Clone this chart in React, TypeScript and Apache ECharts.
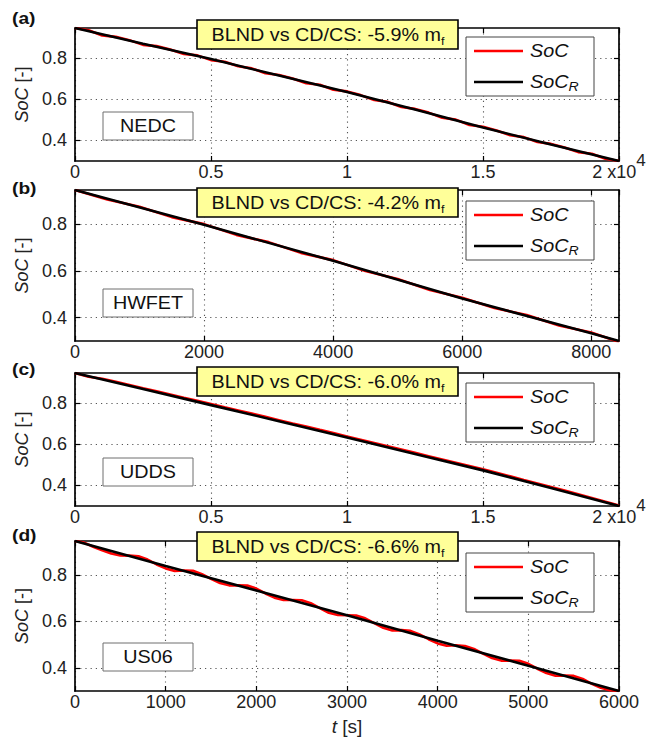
import React, { useEffect, useRef } from "react";
import * as echarts from "echarts";

const FONT = '"Liberation Sans", Arial, Helvetica, sans-serif';

// ---------- data ----------
const panelLetters = ["(a)", "(b)", "(c)", "(d)"];
const cycleNames = ["NEDC", "HWFET", "UDDS", "US06"];
const fuelChange = ["-5.9%", "-4.2%", "-6.0%", "-6.6%"];
const socTicks = [0.4, 0.6, 0.8];
const socMin = 0.3;
const socMax = 0.946;
const timeMax = [20000, 8430, 20000, 6000];
const timeStep = [5000, 2000, 5000, 1000];

// (a) NEDC
const timeA = [0, 500, 1000, 1500, 2000, 2500, 3000, 3500, 4000, 4500, 5000, 5500, 6000, 6500, 7000, 7500, 8000, 8500, 9000, 9500, 10000, 10500, 11000, 11500, 12000, 12500, 13000, 13500, 14000, 14500, 15000, 15500, 16000, 16500, 17000, 17500, 18000, 18500, 19000, 19500, 20000];
const socA = [0.946, 0.935, 0.910, 0.903, 0.887, 0.864, 0.858, 0.842, 0.820, 0.813, 0.790, 0.782, 0.760, 0.750, 0.726, 0.718, 0.701, 0.678, 0.670, 0.646, 0.638, 0.620, 0.596, 0.587, 0.562, 0.553, 0.535, 0.510, 0.501, 0.475, 0.466, 0.448, 0.425, 0.416, 0.392, 0.383, 0.366, 0.343, 0.335, 0.311, 0.300];
const refTimeA = [0, 2500, 5000, 7500, 10000, 12500, 15000, 17500, 20000];
const socRefA = [0.946, 0.870, 0.795, 0.715, 0.635, 0.550, 0.463, 0.380, 0.300];

// (b) HWFET
const timeB = [0, 500, 1000, 1500, 2000, 2500, 3000, 3500, 4000, 4500, 5000, 5500, 6000, 6500, 7000, 7500, 8000, 8430];
const socB = [0.946, 0.905, 0.874, 0.830, 0.800, 0.754, 0.723, 0.677, 0.646, 0.599, 0.565, 0.518, 0.485, 0.441, 0.411, 0.366, 0.336, 0.296];
const refTimeB = [0, 2000, 4000, 6000, 8000, 8430];
const socRefB = [0.946, 0.797, 0.643, 0.482, 0.333, 0.300];

// (c) UDDS
const timeC = [0, 500, 1000, 1500, 2000, 2500, 3000, 3500, 4000, 4500, 5000, 5500, 6000, 6500, 7000, 7500, 8000, 8500, 9000, 9500, 10000, 10500, 11000, 11500, 12000, 12500, 13000, 13500, 14000, 14500, 15000, 15500, 16000, 16500, 17000, 17500, 18000, 18500, 19000, 19500, 20000];
const socC = [0.946, 0.928, 0.918, 0.903, 0.888, 0.872, 0.857, 0.842, 0.826, 0.811, 0.795, 0.779, 0.764, 0.749, 0.733, 0.717, 0.701, 0.686, 0.670, 0.655, 0.638, 0.622, 0.606, 0.590, 0.574, 0.558, 0.542, 0.526, 0.510, 0.494, 0.478, 0.461, 0.444, 0.426, 0.409, 0.392, 0.375, 0.357, 0.339, 0.321, 0.302];
const refTimeC = [0, 2500, 5000, 7500, 10000, 12500, 15000, 17500, 20000];
const socRefC = [0.946, 0.868, 0.790, 0.712, 0.633, 0.553, 0.473, 0.387, 0.300];

// (d) US06
const timeD = [0, 100, 200, 300, 400, 500, 600, 700, 800, 900, 1000, 1100, 1200, 1300, 1400, 1500, 1600, 1700, 1800, 1900, 2000, 2100, 2200, 2300, 2400, 2500, 2600, 2700, 2800, 2900, 3000, 3100, 3200, 3300, 3400, 3500, 3600, 3700, 3800, 3900, 4000, 4100, 4200, 4300, 4400, 4500, 4600, 4700, 4800, 4900, 5000, 5100, 5200, 5300, 5400, 5500, 5600, 5700, 5800, 5900, 6000];
const socD = [0.946, 0.939, 0.921, 0.906, 0.892, 0.884, 0.883, 0.880, 0.866, 0.845, 0.828, 0.817, 0.819, 0.818, 0.803, 0.783, 0.765, 0.755, 0.755, 0.754, 0.741, 0.720, 0.702, 0.692, 0.692, 0.691, 0.678, 0.657, 0.637, 0.627, 0.626, 0.625, 0.613, 0.592, 0.572, 0.561, 0.562, 0.559, 0.544, 0.523, 0.505, 0.495, 0.497, 0.494, 0.481, 0.461, 0.442, 0.431, 0.431, 0.430, 0.417, 0.396, 0.377, 0.366, 0.367, 0.365, 0.352, 0.331, 0.314, 0.303, 0.300];
const refTimeD = [0, 1000, 2000, 3000, 4000, 5000, 6000];
const socRefD = [0.946, 0.838, 0.733, 0.626, 0.516, 0.409, 0.300];

const socTimes = [timeA, timeB, timeC, timeD];
const socValues = [socA, socB, socC, socD];
const refTimes = [refTimeA, refTimeB, refTimeC, refTimeD];
const refValues = [socRefA, socRefB, socRefC, socRefD];

// ---------- layout ----------
const GRID_LEFT = 75;
const GRID_RIGHT = 619;
const panelTop = [28, 190, 373, 541];
const panelHeight = [133, 151, 133, 151];
const noteTop = [20, 188, 367, 532];
const legendTop = [37, 201, 383, 553];
const tagTop = [112, 289, 458, 643];
const letterY = [18, 188, 369, 535];
const SX = 1.13; // horizontal stretch of the reference's lettering

const zip = (t: number[], v: number[]) => t.map((x, i) => [x, v[i]]);

function xLabel(i: number) {
  return (v: number) => {
    if (i === 0 || i === 2) {
      if (v === 20000) return "{n|2 x10}{p|4}";
      return "{n|" + String(v / 10000) + "}";
    }
    return "{n|" + String(v) + "}";
  };
}

const labelRich = {
  n: { fontSize: 18, fontFamily: FONT, color: "#222", lineHeight: 40 },
  p: { fontSize: 17, fontFamily: FONT, color: "#222", lineHeight: 16, verticalAlign: "top" },
};

function buildOption() {
  const grid: any[] = [];
  const xAxis: any[] = [];
  const yAxis: any[] = [];
  const series: any[] = [];
  const graphic: any[] = [];

  for (let i = 0; i < 4; i++) {
    grid.push({
      left: GRID_LEFT,
      top: panelTop[i],
      width: GRID_RIGHT - GRID_LEFT,
      height: panelHeight[i],
      show: false,
    });
  }
  const tickStyle = { inside: true, length: 5, lineStyle: { color: "#000", width: 1.2 } };
  const lineStyle = { show: true, onZero: false, lineStyle: { color: "#000", width: 1.7 } };
  const splitStyle = { show: true, lineStyle: { color: "#555", width: 1.1, type: [1.2, 4] } };

  // bottom x axes
  for (let i = 0; i < 4; i++) {
    xAxis.push({
      type: "value",
      gridIndex: i,
      position: "bottom",
      min: 0,
      max: timeMax[i],
      interval: timeStep[i],
      axisLine: lineStyle,
      axisTick: tickStyle,
      splitLine: splitStyle,
      axisLabel: {
        margin: -9,
        formatter: xLabel(i),
        rich: labelRich,
        showMaxLabel: i !== 1,
      },
      name: i === 3 ? "{i|t}{t| [s]}" : "",
      nameLocation: "middle",
      nameGap: 26,
      nameTextStyle: {
        rich: {
          i: { fontSize: 19, fontFamily: FONT, fontStyle: "italic", color: "#222" },
          t: { fontSize: 19, fontFamily: FONT, color: "#222" },
        },
      },
    });
  }
  // top x axes (mirrored ticks)
  for (let i = 0; i < 4; i++) {
    xAxis.push({
      type: "value",
      gridIndex: i,
      position: "top",
      min: 0,
      max: timeMax[i],
      interval: timeStep[i],
      axisLine: lineStyle,
      axisTick: tickStyle,
      splitLine: { show: false },
      axisLabel: { show: false },
    });
  }
  // left y axes
  for (let i = 0; i < 4; i++) {
    yAxis.push({
      type: "value",
      gridIndex: i,
      position: "left",
      min: socMin,
      max: socMax,
      axisLine: lineStyle,
      axisTick: { ...tickStyle, customValues: socTicks },
      splitLine: splitStyle,
      axisLabel: {
        customValues: socTicks,
        formatter: (v: number) => v.toFixed(1),
        fontSize: 18,
        fontFamily: FONT,
        color: "#222",
        margin: 8,
      },
      name: "{i|SoC}{t| [-]}",
      nameLocation: "middle",
      nameGap: 38,
      nameRotate: 90,
      nameTextStyle: {
        rich: {
          i: { fontSize: 18, fontFamily: FONT, fontStyle: "italic", color: "#222" },
          t: { fontSize: 18, fontFamily: FONT, color: "#222" },
        },
      },
    });
  }
  // right y axes (mirrored ticks)
  for (let i = 0; i < 4; i++) {
    yAxis.push({
      type: "value",
      gridIndex: i,
      position: "right",
      min: socMin,
      max: socMax,
      axisLine: lineStyle,
      axisTick: { ...tickStyle, customValues: socTicks },
      splitLine: { show: false },
      axisLabel: { show: false, customValues: socTicks },
    });
  }

  for (let i = 0; i < 4; i++) {
    series.push({
      type: "line",
      name: "SoC " + cycleNames[i],
      xAxisIndex: i,
      yAxisIndex: i,
      data: zip(socTimes[i], socValues[i]),
      symbol: "none",
      lineStyle: { color: "#ff0000", width: 2.6 },
      z: 2,
    });
    series.push({
      type: "line",
      name: "SoC_R " + cycleNames[i],
      xAxisIndex: i,
      yAxisIndex: i,
      data: zip(refTimes[i], refValues[i]),
      symbol: "none",
      lineStyle: { color: "#000000", width: 2.6 },
      z: 3,
    });

    // panel letter
    graphic.push({
      type: "text",
      x: 12,
      y: letterY[i],
      scaleX: SX,
      z: 100,
      style: {
        text: panelLetters[i],
        fontSize: 17,
        fontWeight: "bold",
        fontFamily: FONT,
        fill: "#111",
        verticalAlign: "middle",
        align: "left",
      },
    });

    // annotation box
    graphic.push({
      type: "rect",
      z: 100,
      shape: { x: 197, y: noteTop[i], width: 261, height: 29 },
      style: { fill: "#ffff99", stroke: "#000", lineWidth: 1.6 },
    });
    graphic.push({
      type: "text",
      z: 101,
      x: 328,
      y: noteTop[i] + 15,
      scaleX: SX,
      style: {
        text: "{a|BLND vs CD/CS: " + fuelChange[i] + " m}{s|f}",
        align: "center",
        verticalAlign: "middle",
        rich: {
          a: { fontSize: 17.5, fontFamily: FONT, fill: "#111", lineHeight: 22 },
          s: { fontSize: 11, fontFamily: FONT, fill: "#111", lineHeight: 11, verticalAlign: "bottom" },
        },
      },
    });

    // legend
    const lt = legendTop[i];
    graphic.push({
      type: "rect",
      z: 100,
      shape: { x: 466, y: lt, width: 128, height: 59 },
      style: { fill: "#fff", stroke: "#444", lineWidth: 1 },
    });
    graphic.push({
      type: "line",
      z: 101,
      shape: { x1: 474, y1: lt + 14, x2: 523, y2: lt + 14 },
      style: { stroke: "#ff0000", lineWidth: 2.4 },
    });
    graphic.push({
      type: "line",
      z: 101,
      shape: { x1: 474, y1: lt + 45, x2: 523, y2: lt + 45 },
      style: { stroke: "#000", lineWidth: 2.4 },
    });
    graphic.push({
      type: "text",
      z: 101,
      x: 530,
      y: lt + 14,
      scaleX: SX,
      style: {
        text: "SoC",
        fontSize: 17.5,
        fontStyle: "italic",
        fontFamily: FONT,
        fill: "#111",
        verticalAlign: "middle",
        align: "left",
      },
    });
    graphic.push({
      type: "text",
      z: 101,
      x: 530,
      y: lt + 45,
      scaleX: SX,
      style: {
        text: "{i|SoC}{r|R}",
        verticalAlign: "middle",
        align: "left",
        rich: {
          i: { fontSize: 17.5, fontStyle: "italic", fontFamily: FONT, fill: "#111", lineHeight: 22 },
          r: { fontSize: 12.5, fontStyle: "italic", fontFamily: FONT, fill: "#111", lineHeight: 12, verticalAlign: "bottom" },
        },
      },
    });

    // cycle tag
    graphic.push({
      type: "rect",
      z: 100,
      shape: { x: 103, y: tagTop[i], width: 90, height: 28 },
      style: { fill: "#fff", stroke: "#6e6e6e", lineWidth: 1 },
    });
    graphic.push({
      type: "text",
      z: 101,
      x: 148,
      y: tagTop[i] + 14,
      scaleX: SX,
      style: {
        text: cycleNames[i],
        fontSize: 17.5,
        fontFamily: FONT,
        fill: "#111",
        align: "center",
        verticalAlign: "middle",
      },
    });
  }

  return {
    animation: false,
    backgroundColor: "#fff",
    grid,
    xAxis,
    yAxis,
    series,
    graphic,
  };
}

export default function App() {
  const ref = useRef<HTMLDivElement>(null);
  useEffect(() => {
    if (!ref.current) return;
    const chart = echarts.init(ref.current, null, { renderer: "svg" });
    chart.setOption(buildOption() as any);
    return () => chart.dispose();
  }, []);
  return (
    <div
      ref={ref}
      style={{ position: "fixed", left: 0, top: 0, width: 653, height: 737, background: "#fff" }}
    />
  );
}
